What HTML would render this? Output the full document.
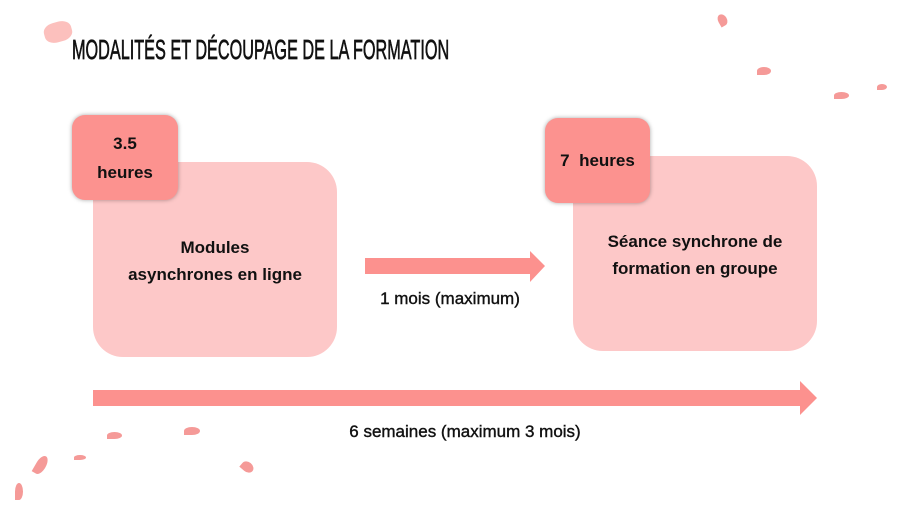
<!DOCTYPE html>
<html><head><meta charset="utf-8"><style>
body{margin:0;width:911px;height:513px;background:#fff;position:relative;overflow:hidden;font-family:"Liberation Sans",sans-serif}
.a{position:absolute}
.box{position:absolute;background:#fdc8c8;border-radius:30px}
.badge{position:absolute;background:#fc928f;border-radius:13px;box-shadow:0 0 4px rgba(0,0,0,.35);display:flex;align-items:center;justify-content:center;text-align:center;font-weight:bold;font-size:17px;line-height:29px;color:#111}
.t{position:absolute;text-align:center;font-weight:bold;font-size:17px;line-height:27px;color:#111}
.h{position:absolute;background:#f59a98;border-radius:50% 50% 50% 0}
</style></head><body>
<div class="a" style="left:44px;top:22px;width:28px;height:20px;background:#fbb0ad;border-radius:40%;transform:rotate(-15deg);opacity:.8"></div>
<div class="a" style="left:72px;top:34px;font-family:'Liberation Sans',sans-serif;font-size:28px;font-weight:normal;color:#111;-webkit-text-stroke:.7px #111;transform:scaleX(.58);transform-origin:left;white-space:nowrap">MODALITÉS ET DÉCOUPAGE DE LA FORMATION</div>
<div class="box" style="left:93px;top:162px;width:244px;height:195px"></div>
<div class="badge" style="left:72px;top:115px;width:106px;height:85px">3.5<br>heures</div>
<div class="t" style="left:93px;top:234px;width:244px">Modules<br>asynchrones en ligne</div>
<div class="box" style="left:573px;top:156px;width:244px;height:195px"></div>
<div class="badge" style="left:545px;top:118px;width:105px;height:85px">7&nbsp; heures</div>
<div class="t" style="left:573px;top:228px;width:244px">Séance synchrone de<br>formation en groupe</div>
<svg class="a" style="left:0;top:0" width="911" height="513">
<polygon points="365,258 530,258 530,251 545,266 530,282 530,274 365,274" fill="#fc918e"/>
<polygon points="93,390 800,390 800,381 817,398 800,415 800,406 93,406" fill="#fc918e"/>
</svg>
<div class="t" style="left:347px;top:285px;width:206px;font-weight:normal;color:#111;-webkit-text-stroke:.4px #111">1 mois (maximum)</div>
<div class="t" style="left:280px;top:418px;width:370px;font-weight:normal;-webkit-text-stroke:.4px #111">6 semaines (maximum 3 mois)</div>
<div class="h" style="left:718px;top:14px;width:9px;height:12px;transform:rotate(-30deg)"></div>
<div class="h" style="left:757px;top:67px;width:14px;height:8px"></div>
<div class="h" style="left:834px;top:92px;width:15px;height:7px"></div>
<div class="h" style="left:877px;top:84px;width:10px;height:6px"></div>
<div class="h" style="left:107px;top:432px;width:15px;height:7px"></div>
<div class="h" style="left:184px;top:427px;width:16px;height:8px"></div>
<div class="h" style="left:74px;top:455px;width:12px;height:5px"></div>
<div class="h" style="left:36px;top:455px;width:10px;height:20px;transform:rotate(30deg)"></div>
<div class="h" style="left:15px;top:483px;width:8px;height:17px"></div>
<div class="h" style="left:241px;top:462px;width:13px;height:10px;transform:rotate(40deg)"></div>
</body></html>
